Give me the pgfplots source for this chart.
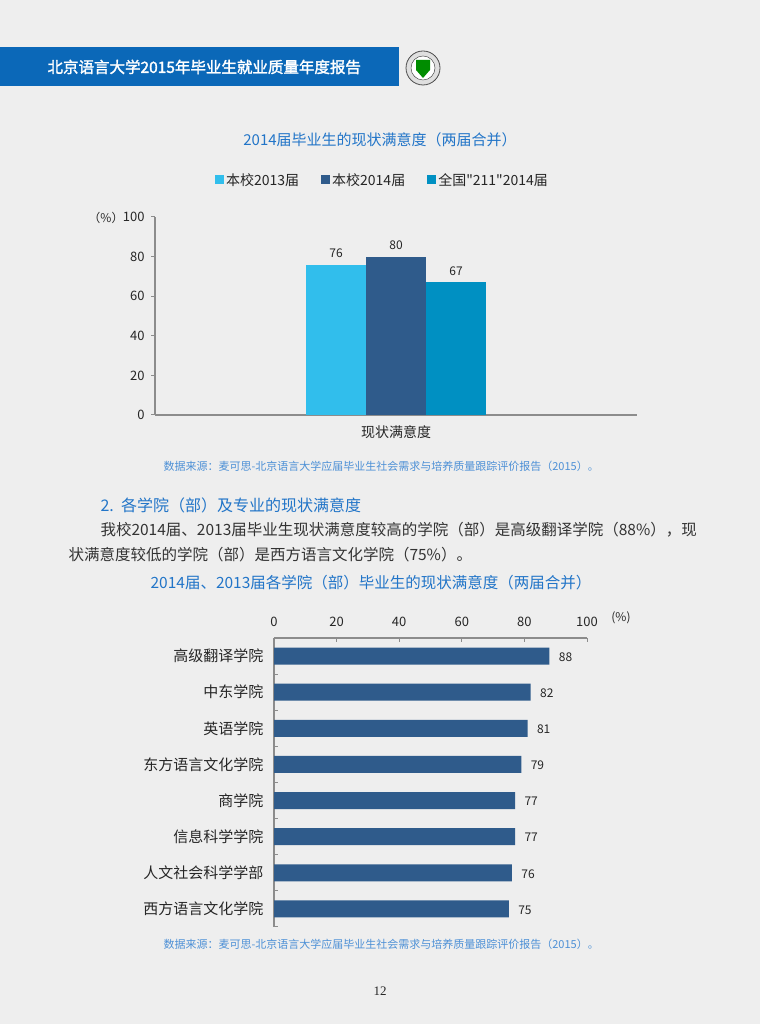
\documentclass[border=0pt]{standalone}
\usepackage{fontspec}
\defaultfontfeatures{}
\setmainfont{Noto Sans CJK SC}
\newfontfamily\nq{Noto Sans CJK SC}
\newfontfamily\hdfont[AutoFakeBold=2]{Noto Sans CJK SC}
\newfontfamily\seriffont{Liberation Serif}
\usepackage{pgfplots}
\pgfplotsset{compat=1.18}
\definecolor{bg}{HTML}{EEEEEE}
\definecolor{hdblue}{HTML}{0B68B8}
\definecolor{titleblue}{HTML}{2275C8}
\definecolor{srcblue}{HTML}{4D90D6}
\definecolor{cA}{HTML}{31BEEC}
\definecolor{cB}{HTML}{2F5B8B}
\definecolor{cC}{HTML}{0090C2}
\definecolor{axgray}{HTML}{8C8C8C}
\definecolor{txt}{HTML}{262626}
\definecolor{para}{HTML}{333333}
\newcommand{\fs}[1]{\fontsize{#1}{#1}\selectfont}
\begin{document}
\begin{tikzpicture}[x=1pt,y=1pt]
% page
\fill[bg] (0,0) rectangle (760,1024);
% header band and logo
\fill[hdblue] (0,1024-86) rectangle (399,1024-47);
\node[white,font=\hdfont\bfseries\fs{15.5},anchor=west] at (44,1024-67) {北京语言大学2015年毕业生就业质量年度报告};
\filldraw[fill=gray!25,draw=gray!60!black,line width=0.8pt] (423,1024-68) circle (17);
\filldraw[fill=white,draw=gray!60!black,line width=0.5pt] (423,1024-68) circle (12);
\fill[green!55!black] (416,1024-60) -- (430,1024-60) -- (430,1024-70) -- (423,1024-78) -- (416,1024-70) -- cycle;

% chart 1 texts
\node[text=titleblue,font=\fs{15}] at (380,1024-140) {2014届毕业生的现状满意度（两届合并）};
\node[text=txt,font=\fs{12}] at (106,1024-218) {（\%）};
\node[text=srcblue,font=\fs{11},anchor=west] at (160,1024-466) {数据来源：麦可思-北京语言大学应届毕业生社会需求与培养质量跟踪评价报告（2015）。};

\begin{axis}[at={(155pt,609pt)},anchor=south west,scale only axis,
  width=482pt,height=198pt,
  ybar=0pt,bar width=60pt,
  xmin=-0.5,xmax=0.5,ymin=0,ymax=100,
  axis x line*=bottom,axis y line*=left,
  axis line style={draw=axgray,line width=1.2pt,-},
  ytick={0,20,...,100},
  tick align=outside,major tick length=4pt,
  y tick style={draw=axgray,line width=1pt},
  x tick style={draw=none},
  xtick={0},xticklabels={现状满意度},
  x tick label style={font=\fs{14},text=txt,yshift=-3pt},
  y tick label style={font=\fs{13},text=txt,xshift=-3pt},
  /pgf/number format/assume math mode=true,
  nodes near coords,
  every node near coord/.append style={font=\fs{12},text=txt,yshift=3pt},
  legend image code/.code={\fill[#1] (0pt,-4.5pt) rectangle (9pt,4.5pt);},
  legend style={at={(0.472,1.187)},anchor=center,legend columns=3,draw=none,fill=none,
    font=\fs{14},text=txt,
    /tikz/every even column/.append style={column sep=20pt}},
]
\addplot[fill=cA,draw=none] coordinates {(0,76)};
\addlegendentry{本校2013届}
\addplot[fill=cB,draw=none] coordinates {(0,80)};
\addlegendentry{本校2014届}
\addplot[fill=cC,draw=none] coordinates {(0,67)};
\addlegendentry{全国{\nq "}211{\nq "}2014届}
\end{axis}

% middle text
\node[text=titleblue,font=\fs{16},anchor=west] at (97,1024-505) {2.\ \ 各学院（部）及专业的现状满意度};
\node[text=para,font=\fs{15.5},anchor=west] at (97,1024-530) {我校2014届、2013届毕业生现状满意度较高的学院（部）是高级翻译学院（88\%），现};
\node[text=para,font=\fs{15.5},anchor=west] at (65,1024-555) {状满意度较低的学院（部）是西方语言文化学院（75\%）。};
\node[text=titleblue,font=\fs{15.5}] at (371,1024-583) {2014届、2013届各学院（部）毕业生的现状满意度（两届合并）};

% chart 2
\node[text=txt,font=\fs{12}] at (621,1024-618) {(\%)};
\begin{axis}[at={(274pt,97pt)},anchor=south west,scale only axis,
  width=313pt,height=289pt,
  xbar,bar width=17pt,
  xmin=0,xmax=100,ymin=-0.5,ymax=7.5,
  axis x line=top,axis y line=left,
  axis line style={draw=axgray,line width=1.2pt,-},
  xtick={0,20,...,100},
  ytick={0,...,7},
  yticklabels={西方语言文化学院,人文社会科学学部,信息科学学院,商学院,东方语言文化学院,英语学院,中东学院,高级翻译学院},
  minor ytick={-0.5,0.5,...,7.5},
  tick align=inside,major tick length=4pt,minor tick length=4pt,
  major x tick style={draw=axgray,line width=1pt},
  major y tick style={draw=none},
  minor y tick style={draw=axgray,line width=1pt},
  x tick label style={font=\fs{13},text=txt,yshift=8pt},
  y tick label style={font=\fs{15},text=txt,xshift=-7pt},
  /pgf/number format/assume math mode=true,
  nodes near coords,
  every node near coord/.append style={font=\fs{12},text=txt,xshift=6pt,yshift=-1pt},
]
\addplot[fill=cB,draw=none] coordinates {(75,0) (76,1) (77,2) (77,3) (79,4) (81,5) (82,6) (88,7)};
\end{axis}
\node[text=srcblue,font=\fs{11},anchor=west] at (160,1024-944) {数据来源：麦可思-北京语言大学应届毕业生社会需求与培养质量跟踪评价报告（2015）。};

% page number
\node[text=txt,font=\seriffont\fs{13}] at (380,1024-991) {12};
\end{tikzpicture}
\end{document}
